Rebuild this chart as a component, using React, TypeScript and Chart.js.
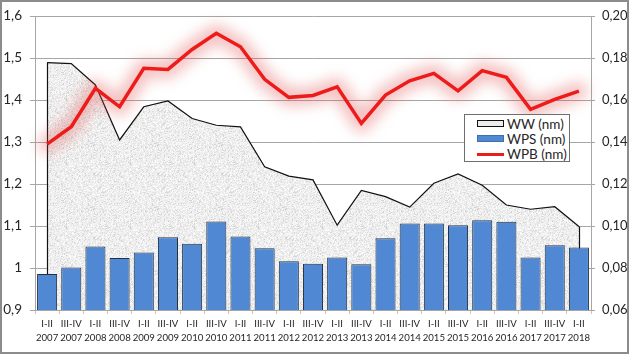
import React, { useEffect, useRef } from 'react';
import { Chart, registerables } from 'chart.js';

Chart.register(...registerables);

const categories: string[][] = [
  ['I-II', '2007'], ['III-IV', '2007'], ['I-II', '2008'], ['III-IV', '2008'],
  ['I-II', '2009'], ['III-IV', '2009'], ['I-II', '2010'], ['III-IV', '2010'],
  ['I-II', '2011'], ['III-IV', '2011'], ['I-II', '2012'], ['III-IV', '2012'],
  ['I-II', '2013'], ['III-IV', '2013'], ['I-II', '2014'], ['III-IV', '2014'],
  ['I-II', '2015'], ['III-IV', '2015'], ['I-II', '2016'], ['III-IV', '2016'],
  ['I-II', '2017'], ['III-IV', '2017'], ['I-II', '2018'],
];

const wwValues = [
  1.489, 1.487, 1.436, 1.305, 1.384, 1.398, 1.356, 1.340, 1.336, 1.241, 1.219, 1.210,
  1.102, 1.185, 1.170, 1.145, 1.202, 1.224, 1.197, 1.150, 1.140, 1.146, 1.099,
];

const wpsValues = [
  0.986, 1.001, 1.051, 1.024, 1.037, 1.073, 1.058, 1.111, 1.075, 1.047, 1.016, 1.010,
  1.025, 1.009, 1.071, 1.106, 1.106, 1.102, 1.114, 1.110, 1.025, 1.054, 1.049,
];

const wpbValues = [
  0.1390, 0.1473, 0.1656, 0.1568, 0.1751, 0.1746, 0.1841, 0.1918, 0.1854, 0.1699, 0.1613, 0.1622,
  0.1663, 0.1489, 0.1624, 0.1692, 0.1727, 0.1644, 0.1740, 0.1708, 0.1556, 0.1603, 0.1643,
];

const seriesNames = ['WW (nm)', 'WPS (nm)', 'WPB (nm)'];

const FONT = 'Lato, "Open Sans", "Noto Sans", sans-serif';
const TEXT = '#262626';
const BLUE = '#5088d4';
const RED = '#ee1b1b';

function makePattern(ctx: CanvasRenderingContext2D): CanvasPattern | string {
  const c = document.createElement('canvas');
  c.width = 64;
  c.height = 64;
  const g = c.getContext('2d');
  if (!g) return '#ececec';
  const img = g.createImageData(64, 64);
  let s = 987654321;
  for (let i = 0; i < 64 * 64; i++) {
    s = (Math.imul(s, 1103515245) + 12345) >>> 0;
    const r = (s >>> 16) % 100;
    let v = 240;
    if (r < 10) v = 214;
    else if (r < 30) v = 228;
    else if (r > 80) v = 251;
    img.data[i * 4] = v;
    img.data[i * 4 + 1] = v;
    img.data[i * 4 + 2] = v;
    img.data[i * 4 + 3] = 255;
  }
  g.putImageData(img, 0, 0);
  return ctx.createPattern(c, 'repeat') || '#ececec';
}

const framePlugin = {
  id: 'frame',
  beforeDraw(chart: any) {
    const ctx = chart.ctx;
    ctx.save();
    ctx.fillStyle = '#ffffff';
    ctx.fillRect(0, 0, chart.width, chart.height);
    ctx.restore();
  },
  afterDraw(chart: any) {
    const ctx = chart.ctx;
    ctx.save();
    ctx.strokeStyle = '#8c8c8c';
    ctx.lineWidth = 2;
    ctx.strokeRect(1, 1, chart.width - 2, chart.height - 2);
    ctx.restore();
  },
};

const edgePlugin = {
  id: 'areaEdges',
  afterDatasetDraw(chart: any, args: any) {
    if (args.index !== 0) return;
    const pts = args.meta.data;
    if (!pts.length) return;
    const ctx = chart.ctx;
    const bottom = chart.chartArea.bottom;
    ctx.save();
    ctx.strokeStyle = '#111111';
    ctx.lineWidth = 1.2;
    [pts[0], pts[pts.length - 1]].forEach((p: any) => {
      ctx.beginPath();
      ctx.moveTo(Math.round(p.x) + 0.5, p.y);
      ctx.lineTo(Math.round(p.x) + 0.5, bottom);
      ctx.stroke();
    });
    ctx.restore();
  },
};

const glowPlugin = {
  id: 'glow',
  beforeDatasetDraw(chart: any, args: any) {
    if (args.index !== 2) return;
    const pts = args.meta.data;
    const ctx = chart.ctx;
    ctx.save();
    ctx.filter = 'blur(7px)';
    ctx.strokeStyle = 'rgba(225, 80, 80, 0.36)';
    ctx.lineWidth = 18;
    ctx.lineJoin = 'round';
    ctx.lineCap = 'round';
    ctx.beginPath();
    pts.forEach((p: any, i: number) => {
      if (i === 0) ctx.moveTo(p.x, p.y);
      else ctx.lineTo(p.x, p.y);
    });
    ctx.stroke();
    ctx.restore();
  },
};

export default function App() {
  const canvasRef = useRef<HTMLCanvasElement | null>(null);

  useEffect(() => {
    document.body.style.margin = '0';
    const canvas = canvasRef.current;
    if (!canvas) return;
    const ctx = canvas.getContext('2d');
    if (!ctx) return;
    const pattern = makePattern(ctx);

    const chart = new Chart(ctx, {
      type: 'bar',
      data: {
        labels: categories,
        datasets: [
          {
            type: 'line',
            label: seriesNames[0],
            data: wwValues,
            yAxisID: 'y',
            borderColor: '#111111',
            borderWidth: 1.2,
            backgroundColor: pattern as any,
            fill: 'start',
            pointRadius: 0,
            tension: 0,
            order: 2,
          } as any,
          {
            type: 'bar',
            label: seriesNames[1],
            data: wpsValues,
            yAxisID: 'y',
            backgroundColor: BLUE,
            borderColor: '#22303f',
            borderWidth: 1,
            barPercentage: 0.83,
            categoryPercentage: 1,
            order: 1,
          } as any,
          {
            type: 'line',
            label: seriesNames[2],
            data: wpbValues,
            yAxisID: 'y1',
            borderColor: RED,
            borderWidth: 3.5,
            pointRadius: 0,
            fill: false,
            tension: 0,
            order: 0,
          } as any,
        ],
      },
      options: {
        responsive: false,
        animation: false,
        devicePixelRatio: 1,
        layout: { padding: { top: 16, left: 0, right: 0, bottom: 0 } },
        plugins: {
          legend: { display: false },
          tooltip: { enabled: false },
        },
        scales: {
          x: {
            grid: {
              offset: true,
              drawOnChartArea: false,
              drawTicks: true,
              tickLength: 4,
              color: '#c8c8c8',
            },
            border: { display: true, color: '#a6a6a6' },
            ticks: {
              autoSkip: false,
              maxRotation: 0,
              minRotation: 0,
              padding: 3,
              color: TEXT,
              font: { family: FONT, size: 9.6, lineHeight: 1.45 },
            },
            afterFit(scale: any) {
              scale.height = 44;
            },
          },
          y: {
            position: 'left',
            min: 0.9,
            max: 1.6,
            ticks: {
              stepSize: 0.1,
              padding: 8,
              color: TEXT,
              font: { family: FONT, size: 13.5 },
              callback: (v: any) => String(Number(Number(v).toFixed(1))).replace('.', ','),
            },
            grid: { color: '#a6a6a6', tickLength: 5, lineWidth: 1 },
            border: { display: true, color: '#a6a6a6' },
            afterFit(scale: any) {
              scale.width = 35;
            },
          },
          y1: {
            position: 'right',
            min: 0.06,
            max: 0.2,
            ticks: {
              stepSize: 0.02,
              padding: 7,
              color: TEXT,
              font: { family: FONT, size: 13 },
              callback: (v: any) => Number(v).toFixed(2).replace('.', ','),
            },
            grid: { drawOnChartArea: false, color: '#a6a6a6', tickLength: 4 },
            border: { display: true, color: '#a6a6a6' },
            afterFit(scale: any) {
              scale.width = 38;
            },
          },
        },
      },
      plugins: [framePlugin, edgePlugin, glowPlugin],
    });

    return () => chart.destroy();
  }, []);

  const rowStyle = (top: number): React.CSSProperties => ({
    position: 'absolute',
    left: 0,
    top,
    height: 16,
    width: '100%',
  });
  const labelStyle: React.CSSProperties = {
    position: 'absolute',
    left: 42,
    top: 0,
    fontFamily: FONT,
    fontSize: 13.5,
    color: TEXT,
    lineHeight: '16px',
    whiteSpace: 'nowrap',
  };

  return (
    <div style={{ position: 'relative', width: 629, height: 354 }}>
      <canvas ref={canvasRef} width={629} height={354} style={{ display: 'block', width: 629, height: 354 }} />
      <div
        style={{
          position: 'absolute',
          left: 464,
          top: 114,
          width: 106,
          height: 48,
          boxSizing: 'border-box',
          border: '1px solid #6e6e6e',
          background: '#ffffff',
        }}
      >
        <div style={rowStyle(1)}>
          <div style={{ position: 'absolute', left: 12, top: 4, width: 27, height: 7, boxSizing: 'border-box', border: '1px solid #111', background: '#ececec' }} />
          <span style={labelStyle}>{seriesNames[0]}</span>
        </div>
        <div style={rowStyle(16)}>
          <div style={{ position: 'absolute', left: 12, top: 4, width: 27, height: 7, boxSizing: 'border-box', border: `1px solid #3f6fae`, background: BLUE }} />
          <span style={labelStyle}>{seriesNames[1]}</span>
        </div>
        <div style={rowStyle(31)}>
          <div style={{ position: 'absolute', left: 12, top: 7, width: 27, height: 3, background: RED }} />
          <span style={labelStyle}>{seriesNames[2]}</span>
        </div>
      </div>
    </div>
  );
}
